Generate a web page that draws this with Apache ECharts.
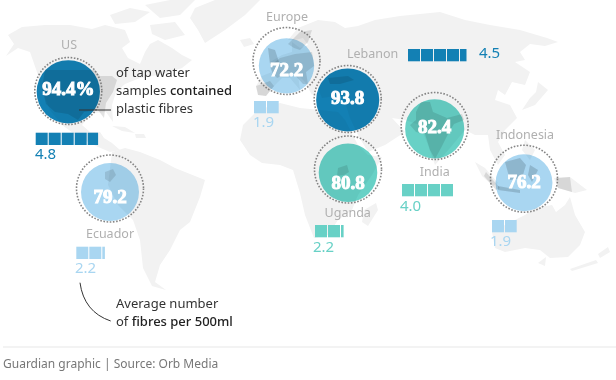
<!DOCTYPE html>
<html>
<head>
<meta charset="utf-8">
<style>
html, body { margin: 0; background: #fff; }
#chart { width: 616px; height: 380px; }
</style>
<script src="https://cdn.jsdelivr.net/npm/echarts@6/dist/echarts.min.js"></script>
</head>
<body>
<div id="chart"></div>
<script>
var places = ['US', 'Europe', 'Lebanon', 'India', 'Uganda', 'Indonesia', 'Ecuador'];
var tapShare = [94.4, 72.2, 93.8, 82.4, 80.8, 76.2, 79.2];
var fibres = [4.8, 1.9, 4.5, 4.0, 2.2, 1.9, 2.2];

// where things sit on the map (axes run 0-616 / 0-380)
var ringX = [68.3, 286.5, 347.7, 434.7, 348, 524, 110];
var ringY = [91, 61, 99, 126, 169.5, 178.7, 188.5];
var shareY = [90, 71, 99, 128.5, 184.5, 183, 198];
var nameX = [69, 287, 347, 434.7, 347.7, 525, 110];
var nameY = [45, 17, 54, 172, 213, 135, 234];
var nameAlign = ['center', 'center', 'left', 'center', 'center', 'center', 'center'];
var waffleX = [35.7, 254, 408, 402, 315, 492, 76.3];
var waffleY = [132.7, 101, 49, 184, 225, 220, 246.7];
var fibreX = [35, 253, 479, 400, 313, 490, 75];
var fibreY = [155, 123, 54, 207, 247.5, 242, 269];
var tones = ['#1380b4', '#a9d6f1', '#1380b4', '#68d1c6', '#68d1c6', '#a9d6f1', '#a9d6f1'];

// rough land outlines in the same map units
var land = [
    [[8,35],[22,27],[45,25],[70,25],[92,29],[105,25],[125,30],[130,42],[122,48],[128,58],[140,64],[145,52],[150,44],[158,40],[172,48],[182,55],[192,60],[182,68],[170,72],[158,75],[140,78],[125,84],[116,92],[112,105],[113,122],[106,112],[92,113],[82,125],[90,132],[100,132],[104,138],[112,143],[120,150],[110,152],[96,146],[80,138],[62,125],[50,110],[42,90],[38,75],[30,52],[18,48],[6,56],[14,44]],
    [[110,15],[130,8],[150,12],[135,22],[115,24]],
    [[145,5],[170,0],[195,0],[180,15],[160,18]],
    [[150,25],[175,22],[185,35],[165,40],[152,34]],
    [[195,8],[215,0],[260,0],[245,15],[225,30],[205,43],[198,30],[190,18]],
    [[240,40],[250,38],[254,44],[244,47]],
    [[112,126],[125,127],[135,133],[122,131]],
    [[135,134],[144,134],[146,138],[136,138]],
    [[112,152],[125,148],[140,152],[160,160],[175,168],[205,180],[200,197],[190,222],[180,230],[170,250],[160,265],[155,282],[166,290],[152,286],[143,268],[140,240],[133,220],[118,205],[108,185]],
    [[256,86],[262,76],[272,72],[270,62],[282,55],[292,52],[292,42],[300,48],[308,45],[303,38],[295,40],[288,40],[298,28],[318,20],[335,22],[345,28],[358,26],[375,20],[400,16],[420,14],[440,12],[465,20],[490,25],[520,30],[547,38],[558,42],[545,46],[530,44],[520,52],[525,60],[515,62],[530,72],[525,85],[512,82],[505,95],[498,90],[495,100],[510,105],[517,118],[505,130],[498,142],[505,155],[498,165],[490,150],[488,135],[475,135],[465,130],[450,148],[435,165],[428,145],[420,125],[405,120],[392,118],[405,132],[385,145],[368,152],[358,135],[350,118],[345,102],[340,95],[322,98],[318,88],[312,95],[305,82],[298,75],[300,90],[290,78],[282,78],[276,84],[266,96],[258,95]],
    [[268,48],[275,50],[279,62],[270,64]],
    [[240,140],[243,125],[258,110],[280,103],[300,108],[320,110],[338,112],[345,120],[358,145],[368,155],[382,157],[372,175],[358,195],[352,210],[338,220],[328,235],[314,238],[305,215],[300,193],[293,170],[280,165],[262,163],[250,155]],
    [[376,203],[378,210],[368,226],[362,222],[364,210]],
    [[538,82],[548,90],[535,105],[522,110],[530,98],[536,92]],
    [[525,140],[535,150],[530,160],[522,150]],
    [[475,162],[485,168],[498,183],[493,186],[482,176]],
    [[505,162],[520,158],[526,165],[522,178],[510,180]],
    [[498,186],[520,190],[520,193],[498,190]],
    [[530,165],[538,170],[532,182],[528,175]],
    [[554,178],[570,177],[587,190],[575,193],[558,188]],
    [[505,225],[525,215],[535,208],[552,205],[556,212],[565,205],[570,197],[575,215],[585,232],[580,245],[568,257],[550,258],[540,250],[525,248],[505,252],[495,248],[492,232]],
    [[538,263],[546,257],[545,266]],
    [[608,247],[610,252],[600,258],[598,254]],
    [[596,260],[598,263],[572,271],[570,269]]
];
// the countries sampled, shaded darker
var sampled = [
    [[45,70],[95,70],[100,76],[112,76],[117,80],[113,92],[106,103],[104,118],[98,110],[84,112],[78,120],[68,114],[55,112],[46,104],[42,88]],
    [[256,86],[270,81],[274,86],[266,96],[258,95]],
    [[272,72],[270,66],[280,58],[295,54],[312,52],[314,66],[306,72],[308,84],[303,84],[294,74],[282,76],[277,78]],
    [[288,44],[300,32],[312,30],[308,42],[300,50],[294,48]],
    [[268,48],[275,50],[279,62],[270,64]],
    [[328,78],[348,76],[354,80],[340,84],[330,84]],
    [[416,112],[421,102],[430,102],[433,112],[447,118],[462,114],[464,120],[454,124],[449,132],[441,148],[435,159],[430,150],[425,134],[416,132],[410,125],[416,120]],
    [[338,168],[347,165],[349,172],[344,175],[337,176]],
    [[486,172],[500,188],[496,190],[484,176]],
    [[505,162],[520,158],[526,165],[522,178],[510,180]],
    [[498,186],[520,190],[520,193],[498,190]],
    [[530,165],[538,170],[532,182],[528,175]],
    [[556,178],[570,177],[572,192],[558,188]],
    [[105,172],[113,169],[116,175],[110,182],[105,179]]
];

var fillPerShare = 63.3 / Math.sqrt(94.4);
function fillSize(share) {
    return fillPerShare * Math.sqrt(share);
}
function fillY(i) {
    return ringY[i] + (65 - fillSize(tapShare[i])) / 2;
}

function polyChildren(api, shapes, color) {
    return shapes.map(function (pts) {
        return {
            type: 'polygon',
            shape: { points: pts.map(function (p) { return api.coord(p); }) },
            style: { fill: color }
        };
    });
}

// text lines: [rich text, x, y]
var bodyFont = '"Noto Sans", sans-serif';
var notes = [
    ['of tap water', 116, 73],
    ['samples {b|contained}', 116, 91],
    ['plastic fibres', 116, 109],
    ['Average number', 116, 304],
    ['of {b|fibres per 500ml}', 116, 322]
];

var option = {
    animation: false,
    grid: { left: 0, right: 0, top: 0, bottom: 0 },
    xAxis: { type: 'value', min: 0, max: 616, show: false },
    yAxis: { type: 'value', min: 0, max: 380, inverse: true, show: false },
    series: [
        {
            // land
            type: 'custom',
            coordinateSystem: 'cartesian2d',
            silent: true,
            z: 1,
            data: [[0, 0]],
            renderItem: function (params, api) {
                return { type: 'group', children: polyChildren(api, land, '#f2f2f2') };
            }
        },
        {
            // filled bubble, area follows the share of samples
            type: 'scatter',
            silent: true,
            z: 2,
            symbolSize: function (val) { return fillSize(val[2]); },
            data: places.map(function (p, i) {
                return { value: [ringX[i], fillY(i), tapShare[i]], itemStyle: { color: tones[i], opacity: 1 } };
            })
        },
        {
            // land seen through each bubble
            type: 'custom',
            coordinateSystem: 'cartesian2d',
            silent: true,
            z: 3,
            data: places.map(function (p, i) { return [ringX[i], fillY(i), tapShare[i]]; }),
            renderItem: function (params, api) {
                var c = api.coord([api.value(0), api.value(1)]);
                return {
                    type: 'group',
                    clipPath: { type: 'circle', shape: { cx: c[0], cy: c[1], r: fillSize(api.value(2)) / 2 } },
                    children: polyChildren(api, land, 'rgba(0,40,50,0.05)')
                };
            }
        },
        {
            // sampled countries
            type: 'custom',
            coordinateSystem: 'cartesian2d',
            silent: true,
            z: 4,
            data: [[0, 0]],
            renderItem: function (params, api) {
                return { type: 'group', children: polyChildren(api, sampled, 'rgba(0,0,0,0.11)') };
            }
        },
        {
            // dotted ring = 100%
            type: 'scatter',
            silent: true,
            z: 5,
            symbolSize: 67,
            itemStyle: { color: 'rgba(0,0,0,0)', borderColor: '#666', borderWidth: 1.6, borderType: [1.6, 1.6] },
            data: places.map(function (p, i) { return [ringX[i], ringY[i]]; })
        },
        {
            // fibre count waffle, one square = one fibre
            type: 'custom',
            coordinateSystem: 'cartesian2d',
            silent: true,
            z: 6,
            data: places.map(function (p, i) { return [waffleX[i], waffleY[i], fibres[i], i]; }),
            renderItem: function (params, api) {
                var x0 = api.value(0), y0 = api.value(1), n = api.value(2), i = api.value(3);
                var kids = [];
                for (var k = 0; k < Math.ceil(n); k++) {
                    var w = Math.min(n - k, 1) * 13 - (n - k >= 1 ? 1 : 0);
                    var a = api.coord([x0 + k * 13, y0]);
                    kids.push({
                        type: 'rect',
                        shape: { x: a[0], y: a[1], width: w, height: 12.3 },
                        style: { fill: tones[i] }
                    });
                }
                return { type: 'group', children: kids };
            }
        },
        {
            // leaders
            type: 'custom',
            coordinateSystem: 'cartesian2d',
            silent: true,
            z: 7,
            data: [[0, 0]],
            renderItem: function (params, api) {
                var a = api.coord([79, 110]), b = api.coord([111, 110]);
                var c = api.coord([80, 282.7]), d = api.coord([110.7, 321]);
                var cp = api.coord([84, 312]);
                var st = { stroke: '#333', lineWidth: 1, fill: null };
                return {
                    type: 'group',
                    children: [
                        { type: 'line', shape: { x1: a[0], y1: a[1], x2: b[0], y2: b[1] }, style: st },
                        { type: 'bezierCurve', shape: { x1: c[0], y1: c[1], x2: d[0], y2: d[1], cpx1: cp[0], cpy1: cp[1] }, style: st }
                    ]
                };
            }
        },
        {
            // share figures in the bubbles
            type: 'custom',
            coordinateSystem: 'cartesian2d',
            silent: true,
            z: 8,
            data: places.map(function (p, i) { return [ringX[i], shareY[i], i]; }),
            renderItem: function (params, api) {
                var c = api.coord([api.value(0), api.value(1)]);
                var i = api.value(2);
                return {
                    type: 'text',
                    x: c[0], y: c[1],
                    style: {
                        text: tapShare[i].toFixed(1) + (i === 0 ? '%' : ''),
                        font: 'bold 19px "Liberation Serif", serif',
                        fill: '#fff', stroke: '#fff', lineWidth: 1,
                        align: 'center', verticalAlign: 'middle'
                    }
                };
            }
        },
        {
            // place names
            type: 'custom',
            coordinateSystem: 'cartesian2d',
            silent: true,
            z: 8,
            data: places.map(function (p, i) { return [nameX[i], nameY[i], i]; }),
            renderItem: function (params, api) {
                var c = api.coord([api.value(0), api.value(1)]);
                var i = api.value(2);
                return {
                    type: 'text',
                    x: c[0], y: c[1],
                    style: {
                        text: places[i], font: '12.5px ' + bodyFont, fill: '#b0b0b0',
                        align: nameAlign[i], verticalAlign: 'middle'
                    }
                };
            }
        },
        {
            // fibre figures
            type: 'custom',
            coordinateSystem: 'cartesian2d',
            silent: true,
            z: 8,
            data: places.map(function (p, i) { return [fibreX[i], fibreY[i], i]; }),
            renderItem: function (params, api) {
                var c = api.coord([api.value(0), api.value(1)]);
                var i = api.value(2);
                return {
                    type: 'text',
                    x: c[0], y: c[1],
                    style: {
                        text: fibres[i].toFixed(1), font: '15px ' + bodyFont, fill: tones[i],
                        align: 'left', verticalAlign: 'middle'
                    }
                };
            }
        },
        {
            // annotations
            type: 'custom',
            coordinateSystem: 'cartesian2d',
            silent: true,
            z: 8,
            data: notes.map(function (n, i) { return [n[1], n[2], i]; }),
            renderItem: function (params, api) {
                var c = api.coord([api.value(0), api.value(1)]);
                return {
                    type: 'text',
                    x: c[0], y: c[1],
                    style: {
                        text: notes[api.value(2)][0],
                        font: '13px ' + bodyFont, fill: '#333',
                        align: 'left', verticalAlign: 'middle',
                        rich: { b: { font: '500 13px ' + bodyFont, fill: '#222' } }
                    }
                };
            }
        }
    ],
    graphic: [
        { type: 'rect', shape: { x: 3, y: 346.5, width: 613, height: 1 }, style: { fill: '#e8e8e8' } },
        {
            type: 'text', x: 3, y: 365,
            style: {
                text: 'Guardian graphic | Source: Orb Media',
                font: '12px ' + bodyFont, fill: '#777',
                align: 'left', verticalAlign: 'middle'
            }
        }
    ]
};

var myChart = echarts.init(document.getElementById('chart'));
myChart.setOption(option);
</script>
</body>
</html>
